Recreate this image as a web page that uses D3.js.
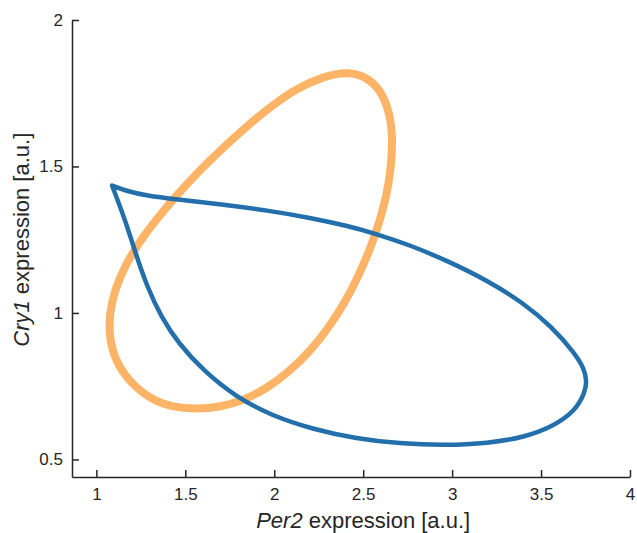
<!DOCTYPE html>
<html>
<head>
<meta charset="utf-8">
<script src="https://cdn.jsdelivr.net/npm/d3@7"></script>
<style>
  body { margin: 0; background: #fff; }
  svg { font-family: "Liberation Sans", Arial, Helvetica, sans-serif; }
</style>
</head>
<body>
<div id="chart"></div>
<script>
// Set dimensions
const width = 637;
const height = 533;

// Tick values
const xTicks = [1, 1.5, 2, 2.5, 3, 3.5, 4];
const yTicks = [0.5, 1, 1.5, 2];

// Orange loop (Per2, Cry1)
const orangeX = [2.422, 2.542, 2.612, 2.652, 2.664, 2.660, 2.644, 2.614, 2.574, 2.528, 2.470, 2.396,
  2.306, 2.202, 2.084, 1.960, 1.826, 1.700, 1.563, 1.425, 1.300, 1.186, 1.106, 1.072, 1.074, 1.104,
  1.160, 1.240, 1.338, 1.446, 1.566, 1.702, 1.843, 1.983, 2.122, 2.268];
const orangeY = [1.826, 1.798, 1.745, 1.675, 1.603, 1.522, 1.441, 1.359, 1.278, 1.202, 1.122, 1.034,
  0.950, 0.869, 0.800, 0.743, 0.701, 0.679, 0.671, 0.678, 0.707, 0.765, 0.836, 0.918, 0.999, 1.080,
  1.160, 1.241, 1.320, 1.398, 1.478, 1.558, 1.636, 1.706, 1.765, 1.806];

// Blue loop, starts and ends at the cusp
const blueX = [1.088, 1.164, 1.284, 1.443, 1.703, 1.963, 2.202, 2.422, 2.562, 2.762, 2.981, 3.201,
  3.401, 3.560, 3.690, 3.742, 3.758, 3.745, 3.690, 3.560, 3.401, 3.201, 2.961, 2.702, 2.462, 2.222,
  1.983, 1.783, 1.603, 1.463, 1.363, 1.284, 1.224, 1.164, 1.114, 1.088];
const blueY = [1.435, 1.417, 1.400, 1.388, 1.371, 1.350, 1.325, 1.296, 1.272, 1.232, 1.176, 1.110,
  1.034, 0.953, 0.862, 0.810, 0.767, 0.725, 0.664, 0.610, 0.575, 0.555, 0.548, 0.554, 0.571, 0.602,
  0.650, 0.714, 0.802, 0.895, 0.987, 1.092, 1.197, 1.313, 1.394, 1.435];

const svg = d3.select("#chart")
  .append("svg")
  .attr("width", width)
  .attr("height", height);

const x = d3.scaleLinear().domain([0.863, 4]).range([72, 630]);
const y = d3.scaleLinear().domain([0.44, 2]).range([477, 20]);

const line = d3.line().x(d => x(d[0])).y(d => y(d[1]));

// Orange loop (drawn first, blue sits on top)
svg.append("path")
  .datum(orangeX.map((v, i) => [v, orangeY[i]]))
  .attr("fill", "none")
  .attr("stroke", "#fdb466")
  .attr("stroke-width", 8)
  .attr("d", line.curve(d3.curveBasisClosed));

svg.append("path")
  .datum(blueX.map((v, i) => [v, blueY[i]]))
  .attr("fill", "none")
  .attr("stroke", "#226fab")
  .attr("stroke-width", 4.5)
  .attr("stroke-linejoin", "round")
  .attr("stroke-linecap", "round")
  .attr("d", line.curve(d3.curveBasis));

// Axes, ticks pointing inward
const xAxis = svg.append("g")
  .attr("transform", "translate(0,477)")
  .call(d3.axisBottom(x).tickValues(xTicks).tickFormat(d3.format("")).tickSizeInner(-7).tickSizeOuter(0).tickPadding(11));

const yAxis = svg.append("g")
  .attr("transform", "translate(72,0)")
  .call(d3.axisLeft(y).tickValues(yTicks).tickFormat(d3.format("")).tickSizeInner(-7).tickSizeOuter(0).tickPadding(9));

[xAxis, yAxis].forEach(g => {
  g.select(".domain").attr("stroke", "#262626").attr("stroke-width", 1.5);
  g.selectAll(".tick line").attr("stroke", "#262626").attr("stroke-width", 1.5);
  g.selectAll(".tick text").attr("fill", "#262626").style("font-size", "17px");
});

// Axis titles
const xTitle = svg.append("text")
  .attr("x", x(2.5))
  .attr("y", 528)
  .attr("text-anchor", "middle")
  .attr("fill", "#262626")
  .style("font-size", "22px");
xTitle.append("tspan").style("font-style", "italic").text("Per2");
xTitle.append("tspan").text(" expression [a.u.]");

const yTitle = svg.append("text")
  .attr("transform", `translate(29,${y(1.25)}) rotate(-90)`)
  .attr("text-anchor", "middle")
  .attr("fill", "#262626")
  .style("font-size", "22px");
yTitle.append("tspan").style("font-style", "italic").text("Cry1");
yTitle.append("tspan").text(" expression [a.u.]");
</script>
</body>
</html>
